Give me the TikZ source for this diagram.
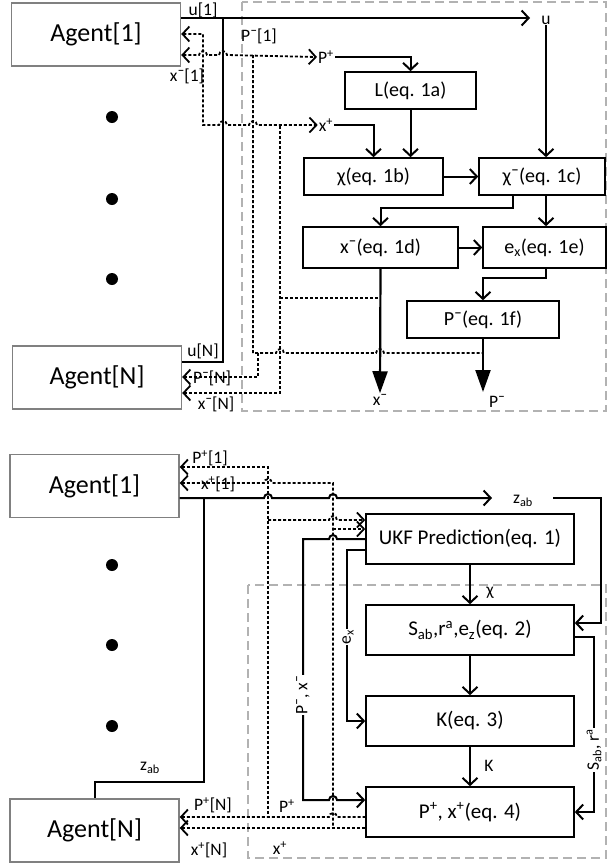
\documentclass[tikz,border=0pt]{standalone}
\usepackage{fontspec}
\setmainfont{Carlito}
\usetikzlibrary{arrows.meta,positioning}

\begin{document}
\begin{tikzpicture}[
    x=1pt, y=-1pt,
    >={Straight Barb[length=7pt,width=15pt]},
    agent/.style={rectangle, draw=gray, line width=1.4pt, minimum width=169pt, minimum height=63pt, inner sep=0pt, font=\fontsize{26}{30}\selectfont},
    eqbox/.style={rectangle, draw, line width=1.6pt, minimum height=37pt, inner sep=0pt, font=\fontsize{20}{24}\selectfont},
    ukfbox/.style={eqbox, minimum width=208pt, minimum height=50pt, font=\fontsize{21}{25}\selectfont},
    flow/.style={line width=2pt},
    bigflow/.style={line width=2.2pt, -{Triangle[length=22pt,width=15pt]}},
    sig/.style={line width=1.8pt, dash pattern=on 3pt off 2pt},
    region/.style={gray!60, line width=1.2pt, dash pattern=on 9pt off 5pt},
    lbl/.style={font=\fontsize{17.5}{20}\selectfont, inner sep=1pt},
    tag/.style={lbl, fill=white, rotate=90},
    dot/.style={circle, fill, minimum size=12pt, inner sep=0pt},
    hop/.style={insert path={arc[start angle=180, end angle=0, radius=4pt]}},
    hopl/.style={insert path={arc[start angle=0, end angle=180, radius=4pt]}}
]
\useasboundingbox (0,0) rectangle (608,865);

% Prediction stage
\draw[region] (242,2) rectangle (606,411);

\node[agent] (agA1) at (96,34.5) {Agent[1]};
\node[agent] (agAN) at (97,377.5) {Agent[N]};
\node[dot] (dA1) at (112,117) {};
\node[dot] (dA2) at (112,199) {};
\node[dot] (dA3) at (112,279) {};

\node[eqbox, minimum width=131pt] (lbox) at (410.5,90.5) {L(eq. 1a)};
\node[eqbox, minimum width=139pt] (chibox) at (373.5,176.5) {χ(eq. 1b)};
\node[eqbox, minimum width=126pt] (chimbox) at (542,176.5) {χ¯(eq. 1c)};
\node[eqbox, minimum width=155pt, minimum height=41pt] (xmbox) at (380.5,247.5) {x¯(eq. 1d)};
\node[eqbox, minimum width=123pt, minimum height=41pt] (exbox) at (544.5,247.5) {e\textsubscript{x}(eq. 1e)};
\node[eqbox, minimum width=152pt] (pmbox) at (483,319.5) {P¯(eq. 1f)};

\node[lbl] (lblu) at (546,20) {u};
\node[lbl] (lblpp) at (326,57) {P\textsuperscript{+}};
\node[lbl] (lblxp) at (326,125) {x\textsuperscript{+}};
\node[lbl] (outxm) at (380,400) {x¯};
\node[lbl] (outpm) at (497,402) {P¯};
\node[lbl] (lu1) at (203,10) {u[1]};
\node[lbl] (lpm1) at (259,36) {P¯[1]};
\node[lbl] (lxm1) at (187,76) {x¯[1]};
\node[lbl] (luN) at (203,351) {u[N]};
\node[lbl] (lpmN) at (212,378) {P¯[N]};
\node[lbl] (lxmN) at (216,404) {x¯[N]};

% control input
\draw[flow,->] (agA1.east |- 0,18) -- (530,18);
\draw[flow] (agAN.east |- 0,362) -- (223,362) -- (223,18);
\draw[flow,->] (lblu.south) -- (lblu.south |- chimbox.north);

% sigma points
\draw[flow,->] (lblpp.east) -| (lbox.north);
\draw[flow,->] (lblxp.east) -| (chibox.north);
\draw[flow,->] (lbox.south) -- (lbox.south |- chibox.north);
\draw[flow,->] (chibox.east) -- (chimbox.west);
\draw[flow,->] ([xshift=-29pt]chimbox.south) -- ++(0,12) -| (xmbox.north);
\draw[flow,->] (lblu.south |- chimbox.south) -- (lblu.south |- exbox.north);
\draw[flow,->] (xmbox.east) -- (exbox.west);
\draw[flow,->] (lblu.south |- exbox.south) -- ++(0,9) -| (pmbox.north);
\draw[bigflow] (xmbox.south) -- (outxm.north);
\draw[bigflow] (pmbox.south) -- (483,392);

% exchange with agents
\draw[sig,<->] (agA1.east |- 0,34) -- (203,34) -- (203,125) -- (219,125) [hop] -- (249,125) [hop] -- (lblxp.west);
\draw[sig,<->] (agA1.east |- 0,55) -- (199,55) [hop] -- (219,55) [hop] -- (lblpp.west);
\draw[sig] (253,55) -- (253,353) -- (276,353) [hop] -- (376,353) [hop] -- (pmbox.south |- 0,353);
\draw[sig,<-] (agAN.east |- 0,377) -- (258,377) -- (258,353);
\draw[sig,<-] (agAN.east |- 0,393) -- (280,393) -- (280,125);
\draw[sig] (280,298) -- (xmbox.south |- 0,298);

% Update stage
\draw[region] (248,585) rectangle (606,858);

\node[agent] (agB1) at (94.5,486) {Agent[1]};
\node[agent] (agBN) at (94.5,830.5) {Agent[N]};
\node[dot] (dB1) at (112,565) {};
\node[dot] (dB2) at (112,645) {};
\node[dot] (dB3) at (112,726) {};

\node[ukfbox] (ukf) at (470,539) {UKF Prediction(eq. 1)};
\node[ukfbox] (sab) at (470,630) {S\textsubscript{ab},r\textsuperscript{a},e\textsubscript{z}(eq. 2)};
\node[ukfbox] (kbox) at (470,721) {K(eq. 3)};
\node[ukfbox] (pxbox) at (470,812) {P\textsuperscript{+}, x\textsuperscript{+}(eq. 4)};

\node[lbl] (lzab) at (523,501) {z\textsubscript{ab}};
\node[lbl] (lzabN) at (150,768) {z\textsubscript{ab}};
\node[lbl, inner sep=0pt] (lpp1) at (210,458) {P\textsuperscript{+}[1]};
\node[lbl, inner sep=0pt] (lxp1) at (218,484) {x\textsuperscript{+}[1]};
\node[lbl] (lppN) at (213,805) {P\textsuperscript{+}[N]};
\node[lbl] (lxpN) at (209,850) {x\textsuperscript{+}[N]};
\node[lbl] (lpp) at (287,806) {P\textsuperscript{+}};
\node[lbl] (lxp) at (280,848) {x\textsuperscript{+}};
\node[lbl] (lchi) at (490,593) {χ};
\node[lbl] (lk) at (489,766) {K};

% measurement
\draw[flow,->] (agB1.east |- 0,498) -- (264,498) [hop] -- (329,498) [hop] -- (492,498);
\draw[flow,->] (553,498) -- (601,498) -- (601,623) -- (sab.east |- 0,623);
\draw[flow] (204,498) -- (204,782) -| (agBN.north);

% filter chain
\draw[flow,->] (ukf.south) -- (sab.north);
\draw[flow,->] (sab.south) -- (kbox.north);
\draw[flow,->] (kbox.south) -- (pxbox.north);
\draw[flow,->] (sab.east |- 0,637) -- (594,637) |- (pxbox.east);
\draw[flow,->] (ukf.west |- 0,550) -- (347,550) |- (kbox.west);
\draw[flow,->] (ukf.west) -- (337,539) [hopl] -- (303,539) -- (303,800) -- (329,800) [hop] -- (pxbox.west |- 0,800);

% exchange with agents
\draw[sig,<-] (agB1.east |- 0,467) -- (268,467) -- (268,817);
\draw[sig,<-] (agB1.east |- 0,483) -- (264,483) [hop] -- (333,483) -- (333,828);
\draw[sig,->] (268,520) -- (329,520) [hop] -- (ukf.west |- 0,520);
\draw[sig,->] (333,529) -- (ukf.west |- 0,529);
\draw[sig,<-] (agBN.east |- 0,817) -- (329,817) [hop] -- (pxbox.west |- 0,817);
\draw[sig,<-] (agBN.east |- 0,828) -- (pxbox.west |- 0,828);

% rotated tags
\node[tag] (tpx) at (303,695) {P¯, x¯};
\node[tag] (tex) at (348,637) {e\textsubscript{x}};
\node[tag] (tsr) at (594,750) {S\textsubscript{ab}, r\textsuperscript{a}};

\end{tikzpicture}
\end{document}
